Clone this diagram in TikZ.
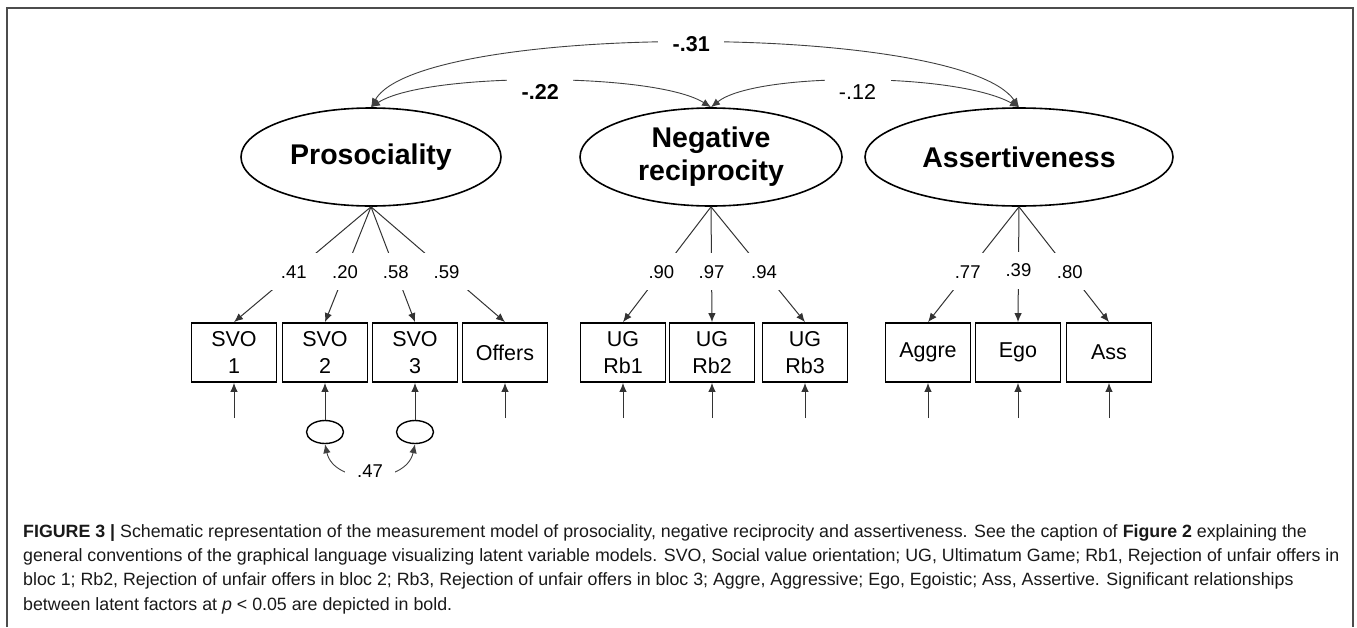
\documentclass[tikz,border=0pt]{standalone}
\usepackage{fontspec}
\setmainfont{Liberation Sans}
\usetikzlibrary{shapes.geometric,arrows.meta}
\begin{document}
\begin{tikzpicture}[x=1pt,y=-1pt,
  tip/.tip={Latex[length=9pt,width=7.5pt]},
  latent/.style={ellipse,draw=black,line width=1.6pt,inner sep=0pt,
    minimum height=98pt,align=center,
    font=\fontsize{28.5}{33}\selectfont\bfseries},
  obs/.style={rectangle,draw=black,line width=1.8pt,minimum width=85pt,
    minimum height=59pt,inner sep=0pt,align=center,
    font=\fontsize{21.5}{27}\selectfont},
  errc/.style={ellipse,draw=black,line width=1.4pt,minimum width=37pt,
    minimum height=23pt,inner sep=0pt},
  conn/.style={draw=black!80,line width=1pt,-tip},
  cov/.style={draw=black!75,line width=0.9pt,tip-tip},
  load/.style={fill=white,inner sep=0pt,minimum width=48pt,minimum height=37pt,
    font=\fontsize{18.5}{21}\selectfont},
  covlab/.style={fill=white,inner sep=0pt,minimum width=66pt,minimum height=40pt,
    font=\fontsize{21.5}{24}\selectfont},
  capline/.style={anchor=base west,inner sep=0pt,text=black!90,
    font=\fontsize{17.8}{21}\selectfont}
]
\useasboundingbox (0,0) rectangle (1357,627);

% panel frame (open at the bottom)
\draw[draw=black!70,line width=1.5pt] (7,627) -- (7,8) -- (1353,8) -- (1353,627);

% latent factors
\node[latent,minimum width=260pt] (pro) at (371,157) {Prosociality};
\node[latent,minimum width=262pt] (nr)  at (711,157) {Negative\\reciprocity};
\node[latent,minimum width=308pt] (asr) at (1019,157) {Assertiveness};

% indicators
\node[obs] (svo1) at (234,352.5) {SVO\\1};
\node[obs] (svo2) at (325,352.5) {SVO\\2};
\node[obs] (svo3) at (415,352.5) {SVO\\3};
\node[obs] (off)  at (505,352.5) {Offers};
\node[obs] (rb1)  at (623,352.5) {UG\\Rb1};
\node[obs] (rb2)  at (712,352.5) {UG\\Rb2};
\node[obs] (rb3)  at (805,352.5) {UG\\Rb3};
\node[obs] (agg)  at (928,352.5) {Aggre};
\node[obs] (ego)  at (1018,352.5) {Ego};
\node[obs] (ass)  at (1109,352.5) {Ass};

% loadings
\draw[conn] (pro.south) -- node[load,pos=0.564] (l1) {.41} (svo1.north);
\draw[conn] (pro.south) -- node[load,pos=0.564] (l2) {.20} (svo2.north);
\draw[conn] (pro.south) -- node[load,pos=0.564] (l3) {.58} (svo3.north);
\draw[conn] (pro.south) -- node[load,pos=0.564] (l4) {.59} (off.north);
\draw[conn] (nr.south) -- node[load,pos=0.564] (l5) {.90} (rb1.north);
\draw[conn] (nr.south) -- node[load,pos=0.564] (l6) {.97} (rb2.north);
\draw[conn] (nr.south) -- node[load,pos=0.564] (l7) {.94} (rb3.north);
\draw[conn] (asr.south) -- node[load,pos=0.564] (l8) {.77} (agg.north);
\draw[conn] (asr.south) -- node[load,pos=0.55] (l9) {.39} (ego.north);
\draw[conn] (asr.south) -- node[load,pos=0.564] (l10) {.80} (ass.north);

% residual terms
\coordinate (u1) at (234,418);
\coordinate (u4) at (505,418);
\coordinate (u5) at (623,418);
\coordinate (u6) at (712,418);
\coordinate (u7) at (805,418);
\coordinate (u8) at (928,418);
\coordinate (u9) at (1018,418);
\coordinate (u10) at (1109,418);
\node[errc] (e2) at (325,432) {};
\node[errc] (e3) at (415,432) {};
\foreach \u/\b in {u1/svo1,u4/off,u5/rb1,u6/rb2,u7/rb3,u8/agg,u9/ego,u10/ass}
  \draw[conn] (\u) -- (\b.south);
\draw[conn] (e2.north) -- (svo2.south);
\draw[conn] (e3.north) -- (svo3.south);

% residual covariance
\draw[cov] (e2.south) .. controls (334,485) and (406,485) ..
  node[fill=white,inner sep=0pt,minimum width=50pt,minimum height=24pt,
       font=\fontsize{18.5}{21}\selectfont,pos=0.5,yshift=4pt] (c47) {.47}
  (e3.south);

% factor covariances
\draw[cov] (pro.north) .. controls (420,22) and (960,22) ..
  node[covlab,pos=0.5,yshift=-1pt,font=\fontsize{21.5}{24}\selectfont\bfseries] (c31) {-.31} (asr.north);
\draw[cov] (pro.north) .. controls (425,72) and (655,72) ..
  node[covlab,pos=0.5,yshift=-11pt,font=\fontsize{21.5}{24}\selectfont\bfseries] (c22) {-.22} (nr.north);
\draw[cov] (nr.north) .. controls (755,72) and (955,72) ..
  node[covlab,pos=0.5,yshift=-11pt] (c12) {-.12} (asr.north);

% caption
\node[capline] (cap1) at (23,537) {{\bfseries FIGURE 3 |} Schematic representation of the measurement model of prosociality, negative reciprocity and assertiveness. See the caption of {\bfseries Figure 2} explaining the};
\node[capline] (cap2) at (23,561.3) {general conventions of the graphical language visualizing latent variable models. SVO, Social value orientation; UG, Ultimatum Game; Rb1, Rejection of unfair offers in};
\node[capline] (cap3) at (23,585.6) {bloc 1; Rb2, Rejection of unfair offers in bloc 2; Rb3, Rejection of unfair offers in bloc 3; Aggre, Aggressive; Ego, Egoistic; Ass, Assertive. Significant relationships};
\node[capline] (cap4) at (23,610) {between latent factors at \textit{p} \textless{} 0.05 are depicted in bold.};
\end{tikzpicture}
\end{document}
